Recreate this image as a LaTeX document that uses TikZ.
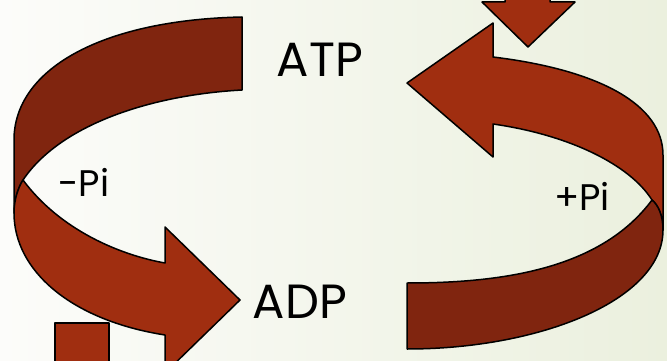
\documentclass[tikz,border=0pt]{standalone}
\usepackage{fontspec}
\setmainfont{Poppins}
\definecolor{darkband}{RGB}{128,37,15}
\definecolor{lightband}{RGB}{160,46,16}
\definecolor{bgleft}{RGB}{252,252,250}
\definecolor{bgright}{RGB}{235,240,222}
\tikzset{
  band/.style={draw=black, line width=1.5pt, line join=round},
  dband/.style={band, fill=darkband},
  lband/.style={band, fill=lightband},
  lbl/.style={font=\fontsize{48}{48}\selectfont, text=black, inner sep=0pt},
  slbl/.style={font=\fontsize{37}{37}\selectfont, text=black, inner sep=0pt}
}
\begin{document}
\begin{tikzpicture}[x=1pt,y=-1pt]
\useasboundingbox (0,0) rectangle (667,361);
\shade[left color=bgleft, right color=bgright] (0,0) rectangle (667,361);
\clip (0,0) rectangle (667,361);
% left arrow, dark upper band
\path[dband] (242,17) .. controls (100,20) and (14,70) .. (14,140) -- (14,213)
  .. controls (14,200) and (18,188) .. (23,180)
  .. controls (60,125) and (150,95) .. (242,90) -- cycle;
% left arrow, light lower band with head
\path[lband] (23,180) .. controls (60,230) and (120,255) .. (165,263) -- (165,227) -- (240,300) -- (165,373) -- (165,335)
  .. controls (70,320) and (14,270) .. (14,213)
  .. controls (14,200) and (18,188) .. (23,180) -- cycle;
% right arrow, light upper band with head
\path[lband] (493,57) .. controls (600,70) and (663,105) .. (663,155) -- (663,230)
  .. controls (663,215) and (658,205) .. (652,200)
  .. controls (630,165) and (570,135) .. (493,124) -- (493,157) -- (407,83) -- (493,23) -- cycle;
% right arrow, dark lower band
\path[dband] (652,200) .. controls (600,270) and (500,283) .. (407,283) -- (407,349)
  .. controls (540,349) and (663,300) .. (663,230)
  .. controls (663,215) and (658,205) .. (652,200) -- cycle;
% small arrow at top
\path[lband] (505,-10) -- (505,2) -- (482,2) -- (528,47) -- (575,2) -- (550,2) -- (550,-10) -- cycle;
% shaft at bottom left
\path[lband] (55,323) rectangle (109,375);
% labels
\node[lbl] (atp) at (320,60) {ATP};
\node[lbl] (adp) at (300,302) {ADP};
\node[slbl] (minus) at (84,182) {-Pi};
\node[slbl] (plus) at (582,196) {+Pi};
\end{tikzpicture}
\end{document}
